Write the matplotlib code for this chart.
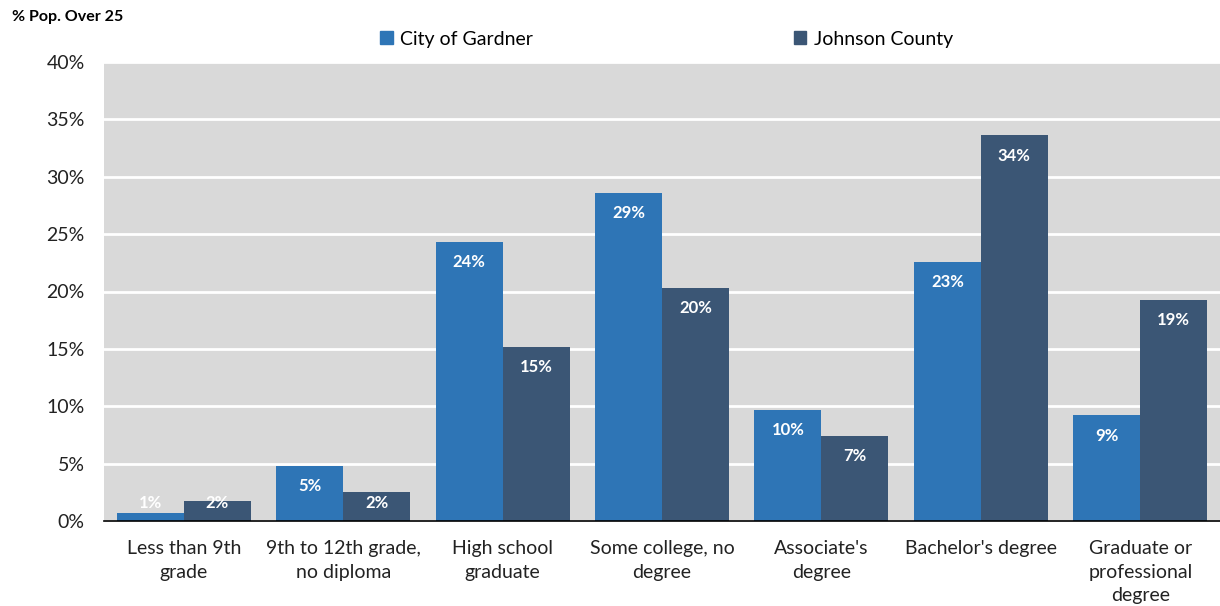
import matplotlib.pyplot as plt
import numpy as np
from matplotlib.patches import Patch

# dados
categorias = ["Less than 9th\ngrade", "9th to 12th grade,\nno diploma", "High school\ngraduate",
              "Some college, no\ndegree", "Associate's\ndegree", "Bachelor's degree",
              "Graduate or\nprofessional\ndegree"]
gardner = [0.7, 4.8, 24.3, 28.6, 9.7, 22.6, 9.2]
johnson = [1.7, 2.5, 15.2, 20.3, 7.4, 33.6, 19.3]
series = ["City of Gardner", "Johnson County"]

cor_azul = "#2e75b6"
cor_escura = "#3b5675"

plt.rcParams['font.family'] = ['Lato', 'DejaVu Sans']

fig = plt.figure(figsize=(12.2, 6.06), dpi=100)
ax = fig.add_axes([104/1220, 1-521/606, 1116/1220, (521-62)/606])
ax.set_facecolor("#d9d9d9")

x = np.arange(len(categorias))
w = 0.42
b1 = ax.bar(x - w/2, gardner, w, color=cor_azul, zorder=3)
b2 = ax.bar(x + w/2, johnson, w, color=cor_escura, zorder=3)

for xs, vals in [(x - w/2, gardner), (x + w/2, johnson)]:
    for xi, v in zip(xs, vals):
        ax.text(xi, max(v - 1.75, 1.55), f"{v:.0f}%", ha="center", va="center",
                color="white", fontsize=12, fontweight="bold", zorder=4)

ax.set_ylim(0, 40)
ax.set_xlim(-0.5, len(categorias) - 0.5)
ax.set_yticks(range(0, 41, 5))
ax.set_yticklabels([f"{t}%" for t in range(0, 41, 5)], fontsize=14, color="#222222")
ax.set_xticks(x)
ax.set_xticklabels(categorias, fontsize=14, color="#222222", linespacing=1.45)
ax.tick_params(axis="both", length=0)
ax.tick_params(axis="y", pad=14)
ax.tick_params(axis="x", pad=14)
ax.grid(axis="y", color="white", linewidth=2, zorder=1)
ax.set_axisbelow(True)
for s in ["top", "right", "left"]:
    ax.spines[s].set_visible(False)
ax.spines["bottom"].set_color("black")
ax.spines["bottom"].set_linewidth(1.2)
ax.spines["bottom"].set_zorder(5)

fig.text(12/1220, 1-17/606, "% Pop. Over 25", fontsize=11.5, fontweight="bold", va="center", ha="left")

handles = [Patch(color=cor_azul), Patch(color=cor_escura)]
fig.legend(handles, series, loc="center left", bbox_to_anchor=(380/1220, 1-39/606), ncol=2,
           frameon=False, fontsize=14, handlelength=0.65, handleheight=0.65,
           handletextpad=0.4, columnspacing=13.4, borderaxespad=0, borderpad=0)

plt.savefig("out.png", dpi=100)
